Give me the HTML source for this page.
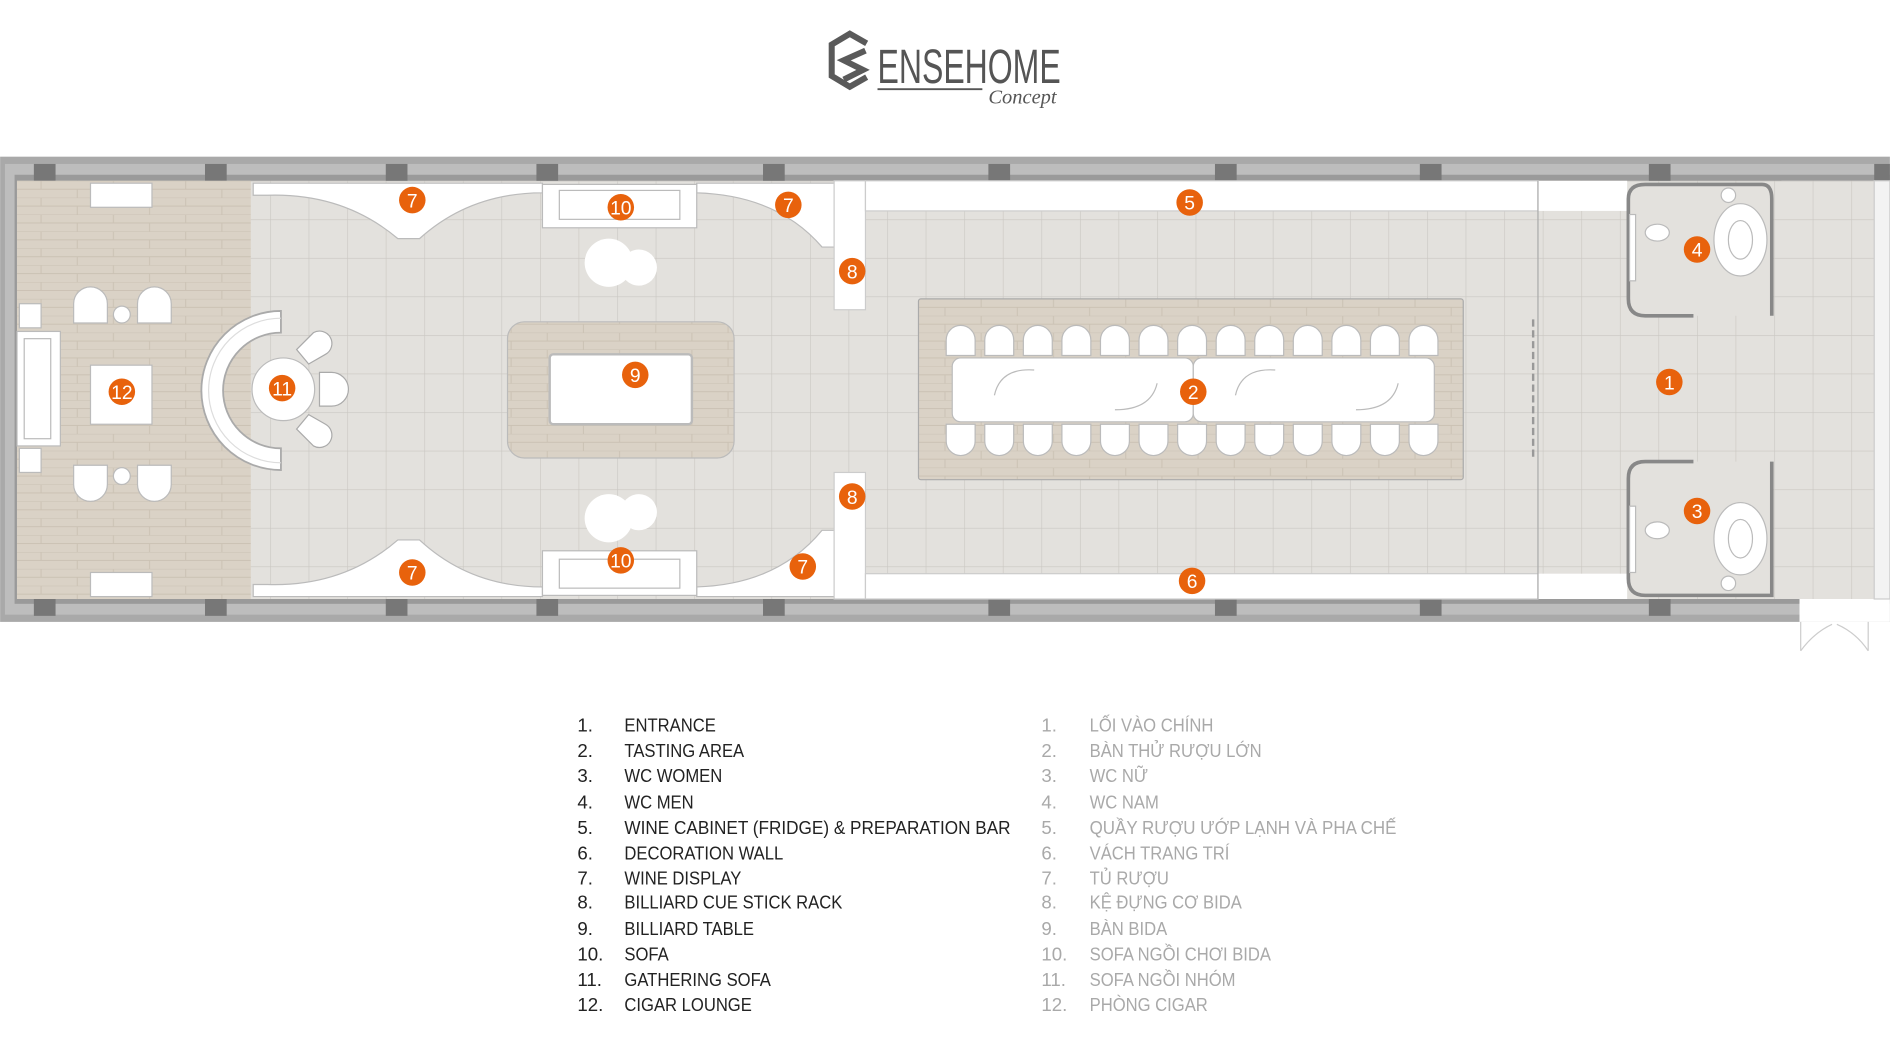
<!DOCTYPE html>
<html><head><meta charset="utf-8"><style>
html,body{margin:0;padding:0;background:#fff;}
svg{display:block;}
.lg{font-family:"Liberation Sans Narrow","Liberation Sans",sans-serif;font-size:15.5px;}
.en{fill:#222;}
.vi{fill:#a9a9a9;}
.n{font-family:"Liberation Sans Narrow","Liberation Sans",sans-serif;font-size:16px;fill:#fff;text-anchor:middle;}
</style></head><body>
<svg width="1890" height="1063" viewBox="0 0 1568 882" xmlns="http://www.w3.org/2000/svg">
<defs>
<pattern id="tile" x="0" y="150" width="32" height="32" patternUnits="userSpaceOnUse">
<rect width="32" height="32" fill="#e3e1dd"/><path d="M0 0H32M0 0V32" stroke="#cac7c2" stroke-width="1"/></pattern>
<pattern id="wood" x="14" y="150" width="60" height="14" patternUnits="userSpaceOnUse">
<rect width="60" height="14" fill="#dad2c6"/><path d="M0 0H60M0 7H60M20 0V7M50 7V14" stroke="#cbc2b4" stroke-width="0.8"/></pattern>
</defs>
<!-- logo -->
<g fill="none" stroke="#5a5a5a" stroke-width="5">
<path d="M719 36 L705 28 L690 37 L690 63 L705 72 L719 64"/>
<path d="M718 42 L700 50 L716 58 L700 66"/>
</g>
<text x="728" y="69" font-family="Liberation Sans Narrow,Liberation Sans,sans-serif" font-size="40" fill="#555" textLength="152" lengthAdjust="spacingAndGlyphs">ENSEHOME</text>
<line x1="728" y1="74" x2="815" y2="74" stroke="#555" stroke-width="1.5"/>
<text x="820" y="86" font-family="Liberation Serif,serif" font-style="italic" font-size="17" fill="#555">Concept</text>

<!-- outer wall -->
<rect x="0" y="130" width="1568" height="386" fill="#a9a9a9"/>
<rect x="4" y="136" width="1564" height="374" fill="#bdbdbd"/>
<rect x="12" y="145" width="1556" height="356" fill="#9a9a9a"/>
<rect x="14" y="150" width="1541" height="347" fill="url(#tile)"/>
<rect x="1493" y="497" width="75" height="19" fill="#fff"/>
<rect x="1478" y="150" width="77" height="347" fill="url(#tile)"/>
<g fill="#777">
<rect x="28" y="136" width="18" height="14"/><rect x="170" y="136" width="18" height="14"/><rect x="320" y="136" width="18" height="14"/><rect x="445" y="136" width="18" height="14"/><rect x="633" y="136" width="18" height="14"/><rect x="820" y="136" width="18" height="14"/><rect x="1008" y="136" width="18" height="14"/><rect x="1178" y="136" width="18" height="14"/><rect x="1368" y="136" width="18" height="14"/><rect x="1555" y="136" width="13" height="14"/>
<rect x="28" y="497" width="18" height="14"/><rect x="170" y="497" width="18" height="14"/><rect x="320" y="497" width="18" height="14"/><rect x="445" y="497" width="18" height="14"/><rect x="633" y="497" width="18" height="14"/><rect x="820" y="497" width="18" height="14"/><rect x="1008" y="497" width="18" height="14"/><rect x="1178" y="497" width="18" height="14"/><rect x="1368" y="497" width="18" height="14"/>
</g>
<rect x="1555" y="150" width="13" height="347" fill="#f3f3f3" stroke="#ccc"/>
<!-- door -->
<path d="M1494 516 V540 M1550 516 V540 M1494 540 Q1505 525 1520 518 M1550 540 Q1540 525 1524 518" stroke="#ccc" fill="none"/>

<!-- cigar lounge -->
<rect x="14" y="150" width="194" height="347" fill="url(#wood)"/>
<g fill="#fff" stroke="#bbb">
<rect x="75" y="152" width="51" height="20"/><rect x="75" y="475" width="51" height="20"/>
<rect x="75" y="303" width="51" height="49"/>
<rect x="14" y="275" width="36" height="95"/><rect x="20" y="281" width="22" height="83"/>
<rect x="16" y="252" width="18" height="20"/><rect x="16" y="372" width="18" height="20"/>
<path d="M61 268 V252 A14 14 0 0 1 89 252 V268 Z"/><path d="M114 268 V252 A14 14 0 0 1 142 252 V268 Z"/>
<path d="M61 386 V402 A14 14 0 0 0 89 402 V386 Z"/><path d="M114 386 V402 A14 14 0 0 0 142 402 V386 Z"/>
<circle cx="101" cy="261" r="7"/><circle cx="101" cy="395" r="7"/>
</g>

<!-- gathering sofa -->
<path d="M233 258 A66 66 0 0 0 233 390 L233 372 A48 48 0 0 1 233 276 Z" fill="#fff" stroke="#aaa" stroke-width="1.5"/>
<path d="M233 264 A60 60 0 0 0 233 384" fill="none" stroke="#ddd"/>
<circle cx="235" cy="323" r="26" fill="#fff" stroke="#bbb"/>
<g fill="#fff" stroke="#aaa">
<path d="M265 318 h10 a14 14 0 0 1 0 28 h-10 z" transform="translate(0,-9)"/>
<path d="M246 290 l14 -14 a10 10 0 0 1 10 18 l-14 8 z"/>
<path d="M246 356 l14 14 a10 10 0 0 0 10 -18 l-14 -8 z"/>
</g>

<!-- wine displays -->
<g fill="#fff" stroke="#bbb" stroke-width="1">
<path d="M210 152 H450 V160 Q390 160 348 198 H330 Q285 160 222 162 H210 Z"/>
<path d="M578 152 H692 V205 H682 Q645 162 578 160 Z"/>
<path d="M210 495 H450 V487 Q390 487 348 448 H330 Q285 487 222 485 H210 Z"/>
<path d="M578 495 H692 V440 H682 Q645 485 578 487 Z"/>
</g>
<!-- sofas 10 -->
<g fill="#fff" stroke="#bbb">
<rect x="450" y="153" width="128" height="36"/><rect x="464" y="158" width="100" height="24"/>
<rect x="450" y="457" width="128" height="37"/><rect x="464" y="464" width="100" height="24"/>
</g>
<g fill="#fff"><circle cx="505" cy="218" r="20"/><circle cx="530" cy="222" r="15"/><circle cx="505" cy="430" r="20"/><circle cx="530" cy="425" r="15"/></g>
<!-- billiard -->
<rect x="421" y="267" width="188" height="113" rx="14" fill="url(#wood)" stroke="#bbb"/>
<rect x="456" y="294" width="118" height="58" rx="3" fill="#fff" stroke="#bbb" stroke-width="2"/>
<!-- cue racks -->
<rect x="692" y="150" width="26" height="107" fill="#fff" stroke="#ccc"/>
<rect x="692" y="392" width="26" height="105" fill="#fff" stroke="#ccc"/>
<!-- bar / deco -->
<rect x="718" y="150" width="558" height="25" fill="#fff" stroke="#ccc"/>
<rect x="718" y="476" width="558" height="21" fill="#fff" stroke="#ccc"/>
<rect x="1276" y="150" width="74" height="25" fill="#fff"/>
<rect x="1276" y="476" width="74" height="21" fill="#fff"/>
<line x1="1276" y1="150" x2="1276" y2="497" stroke="#aaa"/>
<line x1="1272" y1="265" x2="1272" y2="380" stroke="#999" stroke-width="2" stroke-dasharray="6 3"/>

<!-- tasting -->
<rect x="762" y="248" width="452" height="150" rx="2" fill="url(#wood)" stroke="#aaa"/>
<g fill="#fff" stroke="#bbb">
<path id="ct" d="M785 295 V282 A12 12 0 0 1 809 282 V295 Z"/>
<use href="#ct" x="32"/><use href="#ct" x="64"/><use href="#ct" x="96"/><use href="#ct" x="128"/><use href="#ct" x="160"/><use href="#ct" x="192"/><use href="#ct" x="224"/><use href="#ct" x="256"/><use href="#ct" x="288"/><use href="#ct" x="320"/><use href="#ct" x="352"/><use href="#ct" x="384"/>
<path id="cb" d="M785 352 V366 A12 12 0 0 0 809 366 V352 Z"/>
<use href="#cb" x="32"/><use href="#cb" x="64"/><use href="#cb" x="96"/><use href="#cb" x="128"/><use href="#cb" x="160"/><use href="#cb" x="192"/><use href="#cb" x="224"/><use href="#cb" x="256"/><use href="#cb" x="288"/><use href="#cb" x="320"/><use href="#cb" x="352"/><use href="#cb" x="384"/>
<rect x="790" y="297" width="200" height="53" rx="7"/><rect x="990" y="297" width="200" height="53" rx="7"/>
</g>
<g fill="none" stroke="#bbb"><path d="M825 328 Q830 305 858 307 M925 340 Q955 340 960 318 M1025 328 Q1030 305 1058 307 M1125 340 Q1155 340 1160 318"/></g>

<!-- WCs -->
<g fill="#e3e1dd" stroke="#888" stroke-width="3">
<path d="M1405 262 H1365 Q1351 262 1351 248 V165 Q1351 153 1365 153 H1462 Q1470 153 1470 165 V262"/>
<path d="M1405 383 H1365 Q1351 383 1351 397 V480 Q1351 494 1365 494 H1470 V383"/>
</g>
<g fill="#fff" stroke="#bbb">
<ellipse cx="1444" cy="199" rx="22" ry="30"/><ellipse cx="1444" cy="199" rx="10" ry="16"/>
<ellipse cx="1444" cy="447" rx="22" ry="30"/><ellipse cx="1444" cy="447" rx="10" ry="16"/>
<circle cx="1434" cy="162" r="6"/><circle cx="1434" cy="484" r="6"/>
<ellipse cx="1375" cy="193" rx="10" ry="7"/><ellipse cx="1375" cy="440" rx="10" ry="7"/>
<rect x="1352" y="178" width="5" height="55"/><rect x="1352" y="420" width="5" height="55"/>
</g>

<!-- number markers -->
<g fill="#e8620c">
<circle cx="1385" cy="317" r="11"/><circle cx="990" cy="325" r="11"/><circle cx="1408" cy="424" r="11"/><circle cx="1408" cy="207" r="11"/>
<circle cx="987" cy="168" r="11"/><circle cx="989" cy="482" r="11"/>
<circle cx="342" cy="166" r="11"/><circle cx="654" cy="170" r="11"/><circle cx="342" cy="475" r="11"/><circle cx="666" cy="470" r="11"/>
<circle cx="707" cy="225" r="11"/><circle cx="707" cy="412" r="11"/>
<circle cx="527" cy="311" r="11"/><circle cx="515" cy="172" r="11"/><circle cx="515" cy="465" r="11"/>
<circle cx="234" cy="322" r="11"/><circle cx="101" cy="325" r="11"/>
</g>
<g class="n">
<text x="1385" y="323">1</text><text x="990" y="331">2</text><text x="1408" y="430">3</text><text x="1408" y="213">4</text>
<text x="987" y="174">5</text><text x="989" y="488">6</text>
<text x="342" y="172">7</text><text x="654" y="176">7</text><text x="342" y="481">7</text><text x="666" y="476">7</text>
<text x="707" y="231">8</text><text x="707" y="418">8</text>
<text x="527" y="317">9</text><text x="515" y="178">10</text><text x="515" y="471">10</text>
<text x="234" y="328">11</text><text x="101" y="331">12</text>
</g>

<!-- legend -->
<g class="lg en">
<text x="479" y="607">1.</text><text x="479" y="628">2.</text><text x="479" y="649">3.</text><text x="479" y="671">4.</text><text x="479" y="692">5.</text><text x="479" y="713">6.</text><text x="479" y="734">7.</text><text x="479" y="754">8.</text><text x="479" y="776">9.</text><text x="479" y="797">10.</text><text x="479" y="818">11.</text><text x="479" y="839">12.</text>
</g>
<g class="lg en" transform="translate(518,0) scale(0.89,1)">
<text x="0" y="607">ENTRANCE</text>
<text x="0" y="628">TASTING AREA</text>
<text x="0" y="649">WC WOMEN</text>
<text x="0" y="671">WC MEN</text>
<text x="0" y="692" textLength="360" lengthAdjust="spacingAndGlyphs">WINE CABINET (FRIDGE) &amp; PREPARATION BAR</text>
<text x="0" y="713">DECORATION WALL</text>
<text x="0" y="734">WINE DISPLAY</text>
<text x="0" y="754">BILLIARD CUE STICK RACK</text>
<text x="0" y="776">BILLIARD TABLE</text>
<text x="0" y="797">SOFA</text>
<text x="0" y="818">GATHERING SOFA</text>
<text x="0" y="839">CIGAR LOUNGE</text>
</g>
<g class="lg vi">
<text x="864" y="607">1.</text><text x="864" y="628">2.</text><text x="864" y="649">3.</text><text x="864" y="671">4.</text><text x="864" y="692">5.</text><text x="864" y="713">6.</text><text x="864" y="734">7.</text><text x="864" y="754">8.</text><text x="864" y="776">9.</text><text x="864" y="797">10.</text><text x="864" y="818">11.</text><text x="864" y="839">12.</text>
</g>
<g class="lg vi" transform="translate(904,0) scale(0.89,1)">
<text x="0" y="607">LỐI VÀO CHÍNH</text>
<text x="0" y="628">BÀN THỬ RƯỢU LỚN</text>
<text x="0" y="649">WC NỮ</text>
<text x="0" y="671">WC NAM</text>
<text x="0" y="692" textLength="286" lengthAdjust="spacingAndGlyphs">QUẦY RƯỢU ƯỚP LẠNH VÀ PHA CHẾ</text>
<text x="0" y="713">VÁCH TRANG TRÍ</text>
<text x="0" y="734">TỦ RƯỢU</text>
<text x="0" y="754">KỆ ĐỰNG CƠ BIDA</text>
<text x="0" y="776">BÀN BIDA</text>
<text x="0" y="797">SOFA NGỒI CHƠI BIDA</text>
<text x="0" y="818">SOFA NGỒI NHÓM</text>
<text x="0" y="839">PHÒNG CIGAR</text>
</g>
</svg>
</body></html>
